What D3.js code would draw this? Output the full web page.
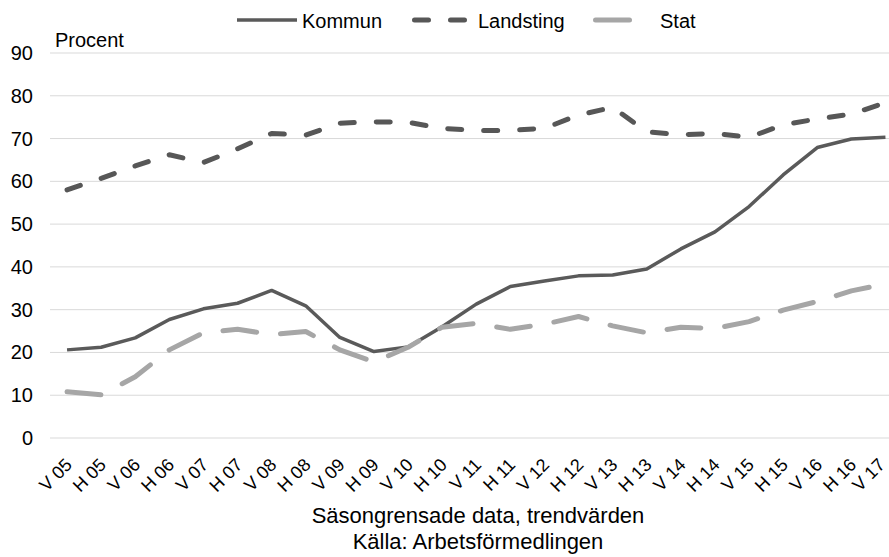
<!DOCTYPE html>
<html>
<head>
<meta charset="utf-8">
<script src="https://cdn.jsdelivr.net/npm/d3@7"></script>
<style>
  body { margin: 0; background: #fff; }
  svg { display: block; font-family: "Liberation Sans", Arial, sans-serif; }
</style>
</head>
<body>
<svg width="889" height="557"></svg>
<script>
const periods = ["V 05","H 05","V 06","H 06","V 07","H 07","V 08","H 08","V 09","H 09","V 10","H 10",
  "V 11","H 11","V 12","H 12","V 13","H 13","V 14","H 14","V 15","H 15","V 16","H 16","V 17"];

const kommun = [20.6,21.2,23.4,27.7,30.2,31.5,34.5,30.9,23.5,20.2,21.3,26.0,
  31.3,35.4,36.7,37.9,38.1,39.5,44.2,48.2,54.1,61.5,67.9,69.9,70.3];
const landsting = [58.0,60.7,63.6,66.2,64.4,67.6,71.2,70.8,73.6,73.9,73.8,72.4,
  71.9,71.9,72.4,75.5,77.3,71.6,70.9,71.2,70.3,73.2,74.6,75.7,78.4];
const stat = [10.8,10.1,14.3,20.6,24.6,25.4,24.2,24.9,20.6,17.8,21.2,25.9,
  26.8,25.4,26.6,28.4,26.2,24.6,25.9,25.6,27.2,29.9,31.9,34.4,36.0];

const yTicks = [0,10,20,30,40,50,60,70,80,90];

const series = [
  { name: "Kommun", values: kommun, color: "#5a5a5a", width: 3.5, dash: null, lx: 237, tx: 302 },
  { name: "Landsting", values: landsting, color: "#575757", width: 5, dash: "14 22", lx: 412, tx: 478 },
  { name: "Stat", values: stat, color: "#a6a6a6", width: 5, dash: "34 24", lx: 593, tx: 660 }
];

const svg = d3.select("svg");

const x = d3.scaleBand().domain(periods).range([50, 50 + 25 * 34.1]);
const y = d3.scaleLinear().domain([0, 90]).range([438, 53]);
const cx = d => x(d) + x.bandwidth() / 2;

// gridlines
svg.append("g").selectAll("line").data(yTicks).enter().append("line")
  .attr("x1", 50).attr("x2", 904)
  .attr("y1", d => y(d)).attr("y2", d => y(d))
  .attr("stroke", "#d9d9d9").attr("stroke-width", 1);

// y labels
svg.append("g").selectAll("text").data(yTicks).enter().append("text")
  .attr("x", 33).attr("y", d => y(d))
  .attr("dy", "0.35em")
  .attr("text-anchor", "end")
  .attr("font-size", 20).attr("fill", "#000")
  .text(d => d);

svg.append("text").attr("x", 55).attr("y", 47)
  .attr("font-size", 20).text("Procent");

// x labels
svg.append("g").selectAll("text").data(periods).enter().append("text")
  .attr("transform", d => `translate(${Math.min(cx(d) + 6, 886)},466) rotate(-45)`)
  .attr("text-anchor", "end")
  .attr("font-size", 18)
  .text(d => d);

// lines
const line = d3.line()
  .x((d, i) => cx(periods[i]))
  .y(d => y(d));

series.forEach(s => {
  svg.append("path")
    .datum(s.values)
    .attr("d", line)
    .attr("fill", "none")
    .attr("stroke", s.color)
    .attr("stroke-width", s.width)
    .attr("stroke-linecap", s.dash ? "round" : "butt")
    .attr("stroke-linejoin", "round")
    .attr("stroke-dasharray", s.dash);
});

// legend
const legend = svg.append("g");
series.forEach(s => {
  legend.append("line")
    .attr("x1", s.lx + (s.dash ? 2.5 : 0)).attr("x2", s.lx + 60 - (s.dash ? 2.5 : 0))
    .attr("y1", 20).attr("y2", 20)
    .attr("stroke", s.color)
    .attr("stroke-width", s.width)
    .attr("stroke-linecap", s.dash ? "round" : "butt")
    .attr("stroke-dasharray", s.dash);
  legend.append("text")
    .attr("x", s.tx).attr("y", 28)
    .attr("font-size", 20)
    .text(s.name);
});

// titles
svg.append("text").attr("x", 478).attr("y", 523)
  .attr("text-anchor", "middle").attr("font-size", 22)
  .text("Säsongrensade data, trendvärden");
svg.append("text").attr("x", 478).attr("y", 549)
  .attr("text-anchor", "middle").attr("font-size", 22)
  .text("Källa: Arbetsförmedlingen");
</script>
</body>
</html>
